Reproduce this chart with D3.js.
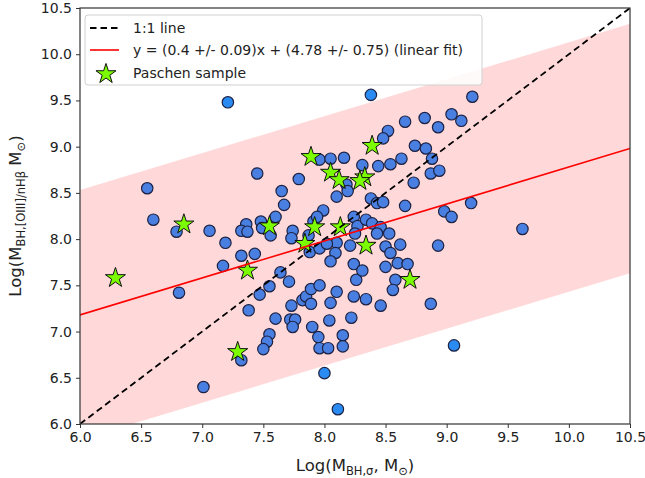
<!DOCTYPE html>
<html>
<head>
<meta charset="utf-8">
<script src="https://cdn.jsdelivr.net/npm/d3@7"></script>
<style>
  body { margin: 0; background: #fff; }
  text { font-family: "DejaVu Sans", sans-serif; fill: #222; }
</style>
</head>
<body>
<div id="chart"></div>
<script>
// values
const tickValues = [6.0, 6.5, 7.0, 7.5, 8.0, 8.5, 9.0, 9.5, 10.0, 10.5];

// main sample (inside the scatter band)
const sampleX = [7.45, 7.79, 6.55, 7.65, 7.67, 6.60, 6.79, 7.06, 7.19, 7.36, 7.32, 7.37, 7.48, 7.49, 7.60, 7.56,
  7.74, 7.73, 7.17, 7.32, 7.43, 7.64, 7.71, 7.55, 7.47, 7.38, 7.60, 7.73, 6.81, 7.72, 7.76, 7.74, 7.55, 7.53,
  7.50, 7.32, 7.01, 7.96, 8.05, 8.16, 8.18, 8.19, 8.10, 7.99, 7.91, 7.94, 7.87, 8.24, 8.10, 8.21, 7.88, 7.96,
  8.02, 8.09, 8.05, 8.24, 8.26, 8.24, 8.22, 7.82, 7.85, 7.89, 7.96, 7.89, 8.05, 8.10, 7.90, 8.04, 7.95, 7.96,
  8.03, 8.15, 8.15, 9.21, 9.04, 9.12, 8.93, 8.82, 8.66, 8.52, 8.48, 8.74, 8.83, 8.88, 8.63, 8.54, 8.44, 8.31,
  8.87, 8.94, 8.73, 8.38, 8.43, 8.48, 8.66, 8.98, 9.04, 9.20, 9.62, 8.27, 8.34, 8.39, 8.46, 8.53, 8.43, 8.25,
  8.50, 8.54, 8.62, 8.93, 8.31, 8.50, 8.60, 8.68, 8.58, 8.56, 8.34, 8.46, 8.87];
const sampleY = [8.71, 8.65, 8.55, 8.52, 8.37, 8.21, 8.08, 8.09, 7.96, 8.16, 8.09, 8.08, 8.19, 8.12, 8.24, 8.04,
  8.09, 8.01, 7.71, 7.82, 7.84, 7.64, 7.54, 7.49, 7.40, 7.23, 7.14, 7.28, 7.42, 7.13, 7.13, 7.05, 6.97, 6.89,
  6.81, 6.69, 6.40, 8.86, 8.87, 8.88, 8.59, 8.52, 8.46, 8.31, 8.19, 8.24, 8.04, 8.24, 7.96, 7.93, 7.86, 7.90,
  7.95, 7.85, 7.76, 7.73, 7.56, 7.38, 7.15, 7.34, 7.38, 7.46, 7.50, 7.30, 7.31, 7.43, 7.05, 7.12, 6.94, 6.82,
  6.82, 6.96, 6.84, 9.54, 9.35, 9.28, 9.21, 9.31, 9.27, 9.17, 9.09, 9.01, 8.98, 8.87, 8.87, 8.81, 8.79, 8.80,
  8.71, 8.74, 8.61, 8.44, 8.39, 8.40, 8.36, 8.30, 8.24, 8.39, 8.11, 8.14, 8.21, 8.17, 8.13, 8.06, 8.06, 8.06,
  7.92, 7.85, 7.94, 7.93, 7.66, 7.70, 7.74, 7.73, 7.56, 7.45, 7.35, 7.28, 7.30];

// objects outside the band
const outlierX = [7.21, 8.00, 8.11, 8.38, 9.06];
const outlierY = [9.48, 6.55, 6.16, 9.56, 6.85];

// Paschen sample
const paschenX = [6.85, 7.55, 6.29, 7.37, 7.29, 7.89, 8.05, 8.12, 7.92, 8.13, 7.84, 8.39, 8.33, 8.29, 8.34, 8.70];
const paschenY = [8.16, 8.14, 7.58, 7.66, 6.78, 8.89, 8.72, 8.64, 8.13, 8.13, 7.95, 9.01, 8.67, 8.63, 7.93, 7.56];

// linear fit and its scatter band
const fitSlope = 0.4;
const fitIntercept = 4.78;
const bandHalfWidth = 1.35;

const legendLabels = ["1:1 line", "y = (0.4 +/- 0.09)x + (4.78 +/- 0.75) (linear fit)", "Paschen sample"];

// layout
const W = 645, H = 478;
const plot = { left: 80, right: 630, top: 8, bottom: 424 };

const svg = d3.select("#chart").append("svg")
  .attr("width", W).attr("height", H);

const x = d3.scaleLinear().domain([6.0, 10.5]).range([plot.left, plot.right]);
const y = d3.scaleLinear().domain([6.0, 10.5]).range([plot.bottom, plot.top]);

svg.append("clipPath").attr("id", "clip")
  .append("rect")
  .attr("x", plot.left).attr("y", plot.top)
  .attr("width", plot.right - plot.left).attr("height", plot.bottom - plot.top);

const g = svg.append("g").attr("clip-path", "url(#clip)");

// pink band around the fit
const band = d3.area()
  .x(d => x(d))
  .y0(d => y(fitSlope * d + fitIntercept - bandHalfWidth))
  .y1(d => y(fitSlope * d + fitIntercept + bandHalfWidth));
g.append("path")
  .datum(x.domain())
  .attr("d", band)
  .attr("fill", "#ff0000")
  .attr("fill-opacity", 0.15);

// scatter points
const samples = sampleX.map((v, i) => ({ x: v, y: sampleY[i] }));
g.selectAll(".pt")
  .data(samples)
  .enter().append("circle")
  .attr("cx", d => x(d.x))
  .attr("cy", d => y(d.y))
  .attr("r", 5.7)
  .attr("fill", "#4a7fe2")
  .attr("stroke", "#1c2244")
  .attr("stroke-width", 1.2);

const outliers = outlierX.map((v, i) => ({ x: v, y: outlierY[i] }));
g.selectAll(".out")
  .data(outliers)
  .enter().append("circle")
  .attr("cx", d => x(d.x))
  .attr("cy", d => y(d.y))
  .attr("r", 5.7)
  .attr("fill", "#2a8cf2")
  .attr("stroke", "#1c2244")
  .attr("stroke-width", 1.2);

const star = d3.symbol().type(d3.symbolStar).size(125);
const paschen = paschenX.map((v, i) => ({ x: v, y: paschenY[i] }));
g.selectAll(".star")
  .data(paschen)
  .enter().append("path")
  .attr("d", star)
  .attr("transform", d => `translate(${x(d.x)},${y(d.y)})`)
  .attr("fill", "#7cfc00")
  .attr("stroke", "#111")
  .attr("stroke-width", 1);

// 1:1 line and fit line
const line = d3.line().x(d => x(d[0])).y(d => y(d[1]));
g.append("path")
  .datum(x.domain().map(v => [v, v]))
  .attr("d", line)
  .attr("stroke", "#000").attr("stroke-width", 1.8)
  .attr("stroke-dasharray", "6.5,4")
  .attr("fill", "none");
g.append("path")
  .datum(x.domain().map(v => [v, fitSlope * v + fitIntercept]))
  .attr("d", line)
  .attr("stroke", "#ff0000").attr("stroke-width", 1.6)
  .attr("fill", "none");

// axes
const fmt = d3.format(".1f");
const xAxis = svg.append("g")
  .attr("transform", `translate(0,${plot.bottom})`)
  .call(d3.axisBottom(x).tickValues(tickValues).tickFormat(fmt).tickSize(4).tickPadding(4));
const yAxis = svg.append("g")
  .attr("transform", `translate(${plot.left},0)`)
  .call(d3.axisLeft(y).tickValues(tickValues).tickFormat(fmt).tickSize(4).tickPadding(4));
[xAxis, yAxis].forEach(a => {
  a.select(".domain").remove();
  a.selectAll("line").attr("stroke", "#333");
  a.selectAll("text").style("font-size", "14px").attr("fill", "#222");
});

// frame
svg.append("rect")
  .attr("x", plot.left).attr("y", plot.top)
  .attr("width", plot.right - plot.left).attr("height", plot.bottom - plot.top)
  .attr("fill", "none").attr("stroke", "#333").attr("stroke-width", 1.2);

// axis labels
const xl = svg.append("text")
  .attr("x", (plot.left + plot.right) / 2).attr("y", 471)
  .attr("text-anchor", "middle").style("font-size", "16.5px");
xl.append("tspan").text("Log(M");
xl.append("tspan").attr("dy", 4).style("font-size", "11.5px").text("BH,σ");
xl.append("tspan").attr("dy", -4).text(", M");
xl.append("tspan").attr("dy", 4).style("font-size", "11.5px").text("⊙");
xl.append("tspan").attr("dy", -4).text(")");

const yl = svg.append("text")
  .attr("transform", `translate(21,${(plot.top + plot.bottom) / 2}) rotate(-90)`)
  .attr("text-anchor", "middle").style("font-size", "16.5px");
yl.append("tspan").text("Log(M");
yl.append("tspan").attr("dy", 4).style("font-size", "11.5px").text("BH,[OIII]/nHβ");
yl.append("tspan").attr("dy", -4).text(" M");
yl.append("tspan").attr("dy", 4).style("font-size", "11.5px").text("⊙");
yl.append("tspan").attr("dy", -4).text(")");

// legend
const lg = svg.append("g");
lg.append("rect")
  .attr("x", 85).attr("y", 15).attr("width", 397).attr("height", 70).attr("rx", 3)
  .attr("fill", "#fff").attr("fill-opacity", 0.85)
  .attr("stroke", "#d0d0d0");
const rowY = [28, 50, 73];
lg.append("line")
  .attr("x1", 90).attr("x2", 119).attr("y1", rowY[0]).attr("y2", rowY[0])
  .attr("stroke", "#000").attr("stroke-width", 1.8).attr("stroke-dasharray", "6.5,4");
lg.append("line")
  .attr("x1", 90).attr("x2", 119).attr("y1", rowY[1]).attr("y2", rowY[1])
  .attr("stroke", "#ff0000").attr("stroke-width", 1.6);
lg.append("path")
  .attr("d", star)
  .attr("transform", `translate(106,${rowY[2] + 1})`)
  .attr("fill", "#7cfc00").attr("stroke", "#111");
lg.selectAll(".lt")
  .data(legendLabels)
  .enter().append("text")
  .attr("x", 133)
  .attr("y", (d, i) => rowY[i])
  .attr("dy", "0.35em")
  .style("font-size", "14px")
  .text(d => d);
</script>
</body>
</html>
